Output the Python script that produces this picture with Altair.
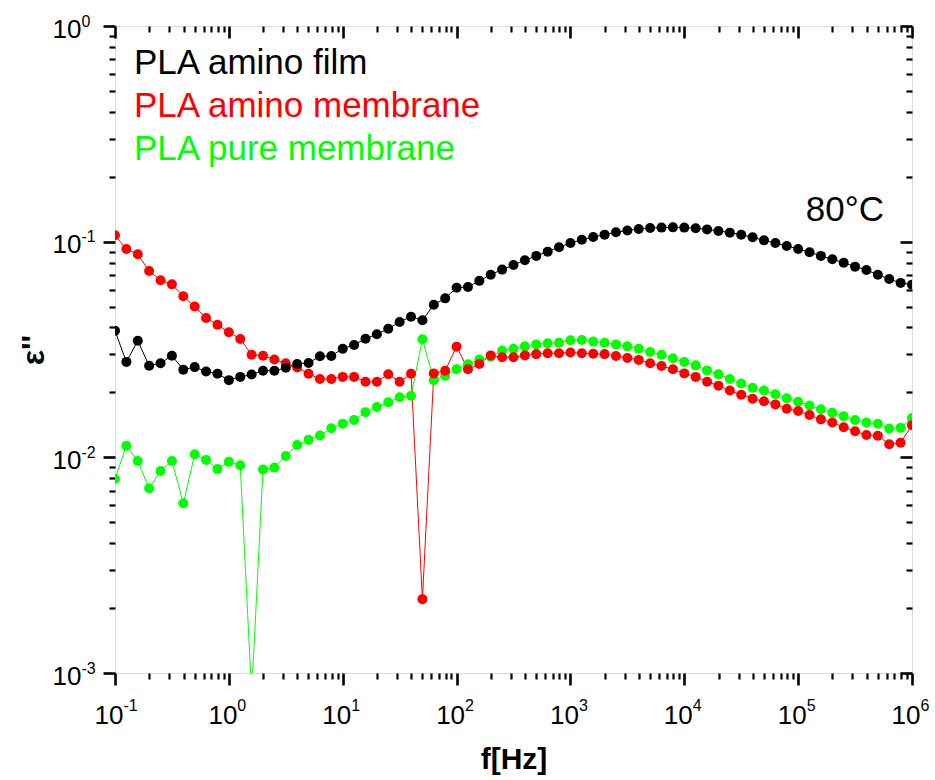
import altair as alt
import pandas as pd

# ---------------- data ----------------
freq = [0.1, 0.1259, 0.1585, 0.1995, 0.2512, 0.3162, 0.3981, 0.5012, 0.631, 0.7943,
        1.0, 1.259, 1.585, 1.995, 2.512, 3.162, 3.981, 5.012, 6.31, 7.943,
        10.0, 12.59, 15.85, 19.95, 25.12, 31.62, 39.81, 50.12, 63.1, 79.43,
        100.0, 125.9, 158.5, 199.5, 251.2, 316.2, 398.1, 501.2, 631.0, 794.3,
        1000.0, 1259.0, 1585.0, 1995.0, 2512.0, 3162.0, 3981.0, 5012.0, 6310.0, 7943.0,
        10000.0, 12590.0, 15850.0, 19950.0, 25120.0, 31620.0, 39810.0, 50120.0, 63100.0, 79430.0,
        100000.0, 125900.0, 158500.0, 199500.0, 251200.0, 316200.0, 398100.0, 501200.0, 631000.0, 794300.0,
        1000000.0]

amino_film = [0.0386, 0.0277, 0.0347, 0.0266, 0.0273, 0.0296, 0.0255, 0.0262, 0.0250, 0.0244,
              0.0228, 0.0236, 0.0242, 0.0252, 0.0252, 0.0260, 0.0271, 0.0274, 0.0294, 0.0295,
              0.0319, 0.0332, 0.0355, 0.0372, 0.0395, 0.0424, 0.0449, 0.0432, 0.0510, 0.0546,
              0.0612, 0.0616, 0.0658, 0.0703, 0.0742, 0.0780, 0.0820, 0.0859, 0.0899, 0.0942,
              0.0986, 0.1021, 0.1051, 0.1078, 0.1106, 0.1127, 0.1145, 0.1158, 0.1162, 0.1165,
              0.1162, 0.1155, 0.1140, 0.1121, 0.1101, 0.1077, 0.1048, 0.1014, 0.0986, 0.0955,
              0.0925, 0.0893, 0.0859, 0.0829, 0.0799, 0.0766, 0.0739, 0.0703, 0.0671, 0.0644,
              0.0632]

amino_membrane = [0.107, 0.0925, 0.0874, 0.0731, 0.0662, 0.0634, 0.0558, 0.0500, 0.0443, 0.0412,
                  0.0380, 0.0354, 0.0299, 0.0296, 0.0284, 0.0273, 0.0261, 0.0244, 0.0231, 0.0231,
                  0.0236, 0.0236, 0.0224, 0.0224, 0.0243, 0.0224, 0.0244, 0.0022, 0.0245, 0.0252,
                  0.0326, 0.0256, 0.0271, 0.0297, 0.0291, 0.0291, 0.0297, 0.0301, 0.0304, 0.0304,
                  0.0306, 0.0304, 0.0302, 0.0301, 0.0295, 0.0289, 0.0283, 0.0273, 0.0265, 0.0256,
                  0.0245, 0.0236, 0.0224, 0.0215, 0.0204, 0.0195, 0.0187, 0.0182, 0.0176, 0.0168,
                  0.0164, 0.0157, 0.0150, 0.0145, 0.0138, 0.0132, 0.0127, 0.0126, 0.0115, 0.0117,
                  0.0141]

pure_membrane = [0.00794, 0.01133, 0.00962, 0.00719, 0.00865, 0.00962, 0.00612, 0.01033, 0.00973, 0.00884,
                 0.00955, 0.00919, 0.0008, 0.00879, 0.00896, 0.01015, 0.0114, 0.01205, 0.01262, 0.01364,
                 0.01433, 0.0149, 0.0162, 0.0171, 0.0180, 0.0190, 0.0193, 0.0353, 0.0228, 0.0239,
                 0.0256, 0.0270, 0.0284, 0.0293, 0.0313, 0.0319, 0.0327, 0.0334, 0.0338, 0.0340,
                 0.0349, 0.0350, 0.0344, 0.0340, 0.0334, 0.0327, 0.0319, 0.0308, 0.0299, 0.0288,
                 0.0277, 0.0267, 0.0253, 0.0243, 0.0231, 0.0220, 0.0210, 0.0204, 0.0196, 0.0188,
                 0.0181, 0.0174, 0.0167, 0.0161, 0.0155, 0.0149, 0.0145, 0.0143, 0.0136, 0.0137,
                 0.0152]

series_names = ["PLA amino film", "PLA amino membrane", "PLA pure membrane"]
series_colors = ["#000000", "#ff0000", "#00ff00"]
x_exponents = [-1, 0, 1, 2, 3, 4, 5, 6]
y_exponents = [-3, -2, -1, 0]
temperature_label = "80°C"
x_title = "f[Hz]"
y_title = "ε''"

# ---------------- layout ----------------
FONT = "Liberation Sans"
W, H = 797, 647

rows = []
for name, vals in [(series_names[2], pure_membrane),
                   (series_names[1], amino_membrane),
                   (series_names[0], amino_film)]:
    for f, v in zip(freq, vals):
        rows.append({"f": f, "eps": v, "series": name})
df = pd.DataFrame(rows)

x_major = [10.0 ** e for e in x_exponents]
y_major = [10.0 ** e for e in y_exponents]
x_ticks = sorted(set([m * 10.0 ** e for e in x_exponents[:-1] for m in range(1, 10)] + x_major))
y_ticks = sorted(set([m * 10.0 ** e for e in y_exponents[:-1] for m in range(1, 10)] + y_major))

xs = alt.Scale(type="log", domain=[x_major[0], x_major[-1]], nice=False)
ys = alt.Scale(type="log", domain=[y_major[0], y_major[-1]], nice=False)

MAJOR = "abs(log(datum.value)/LN10 - round(log(datum.value)/LN10)) < 0.001"
tick_size = {"condition": {"test": MAJOR, "value": 12}, "value": 6}
tick_width = {"condition": {"test": MAJOR, "value": 2.6}, "value": 2.2}
EXP = "'' + round(log(datum.value)/LN10)"

common = dict(domain=False, grid=False, tickColor="black", labelColor="black",
              labelFont=FONT, labelFlush=False, labelOverlap=False)

x_main = alt.Axis(orient="bottom", values=x_ticks, tickSize=tick_size, tickWidth=tick_width,
                  labelExpr=f"({MAJOR}) ? '10' : ''", labelAlign="right", labelBaseline="alphabetic",
                  labelPadding=38, labelOffset=8, labelFontSize=26,
                  title=x_title, titleFont=FONT, titleFontSize=30, titleFontWeight="bold",
                  titleColor="black", titleX=W / 2, titleY=95, titleAlign="center",
                  titleBaseline="alphabetic", **common)
y_main = alt.Axis(orient="left", values=y_ticks, tickSize=tick_size, tickWidth=tick_width,
                  labelExpr=f"({MAJOR}) ? '10' : ''", labelAlign="right", labelBaseline="alphabetic",
                  labelPadding=22, labelOffset=11, labelFontSize=26,
                  title=y_title, titleFont=FONT, titleFontSize=32, titleFontWeight="bold",
                  titleColor="black", titleAngle=270, titleX=-72, titleY=H / 2,
                  titleAlign="center", titleBaseline="alphabetic", **common)

x_exp = alt.Axis(orient="bottom", values=x_major, tickSize=12, tickOpacity=0,
                 labelExpr=EXP, labelAlign="left", labelBaseline="alphabetic",
                 labelPadding=25, labelOffset=8, labelFontSize=16, title=None, **common)
y_exp = alt.Axis(orient="left", values=y_major, tickSize=12, tickOpacity=0,
                 labelExpr=EXP, labelAlign="left", labelBaseline="alphabetic",
                 labelPadding=22, labelOffset=0, labelFontSize=16, title=None, **common)

x_top = alt.Axis(orient="bottom", offset=-H, values=x_ticks, tickSize=tick_size,
                 tickWidth=tick_width, labels=False, title=None, **common)
y_right = alt.Axis(orient="left", offset=-W, values=y_ticks, tickSize=tick_size,
                   tickWidth=tick_width, labels=False, title=None, **common)

color = alt.Color("series:N", scale=alt.Scale(domain=series_names, range=series_colors), legend=None)

base = alt.Chart(df)
lines = base.mark_line(strokeWidth=1.0, clip=True).encode(
    x=alt.X("f:Q", scale=xs, axis=x_main),
    y=alt.Y("eps:Q", scale=ys, axis=y_main),
    color=color,
)
points = base.mark_circle(size=100, opacity=1, clip=True).encode(
    x=alt.X("f:Q", scale=xs, axis=None),
    y=alt.Y("eps:Q", scale=ys, axis=None),
    color=color,
)
exp_layer = base.mark_point(opacity=0, clip=True).encode(
    x=alt.X("f:Q", scale=xs, axis=x_exp),
    y=alt.Y("eps:Q", scale=ys, axis=y_exp),
)
mirror_layer = base.mark_point(opacity=0, clip=True).encode(
    x=alt.X("f:Q", scale=xs, axis=x_top),
    y=alt.Y("eps:Q", scale=ys, axis=y_right),
)

legend_layers = []
for i, (name, col) in enumerate(zip(series_names, series_colors)):
    legend_layers.append(
        alt.Chart(pd.DataFrame({"label": [name]})).mark_text(
            align="left", baseline="alphabetic", fontSize=35, font=FONT, color=col
        ).encode(x=alt.value(19), y=alt.value(48 + 43 * i), text="label:N")
    )

temp = alt.Chart(pd.DataFrame({"label": [temperature_label]})).mark_text(
    align="right", baseline="alphabetic", fontSize=35, font=FONT, color="black"
).encode(x=alt.value(769), y=alt.value(195), text="label:N")

chart = alt.layer(lines, points, exp_layer, mirror_layer, *legend_layers, temp).resolve_axis(
    x="independent", y="independent"
).properties(
    width=W, height=H,
    autosize=alt.AutoSizeParams(type="none"),
    padding={"left": 115, "top": 26, "right": 23, "bottom": 107},
    background="white",
).configure_view(stroke="black", strokeWidth=2.7).configure(font=FONT)

chart.save("out.html", embed_options={"renderer": "svg", "actions": False})
